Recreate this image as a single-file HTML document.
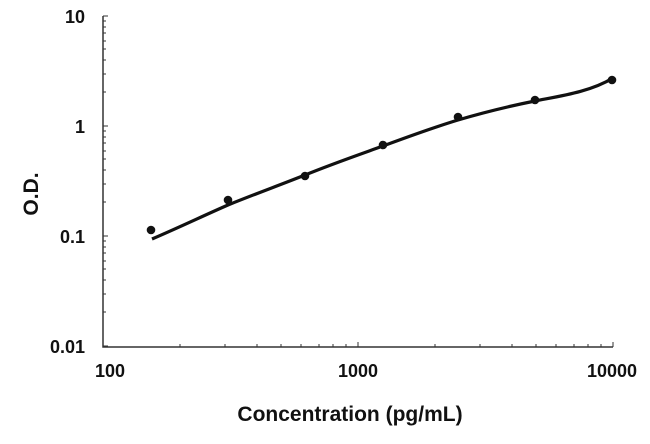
<!DOCTYPE html>
<html><head><style>body{margin:0;background:#fff}</style></head><body>
<svg width="650" height="439" xmlns="http://www.w3.org/2000/svg" font-family="Liberation Sans, Arial, sans-serif" font-weight="bold">
<rect width="650" height="439" fill="#fff"/>
<g stroke="#333" stroke-width="1.5" fill="none">
<path d="M103,16 V347 H613"/>
<g stroke-width="1">
<path id="yd" d="M103,16h5 M103,21h3 M103,27h3 M103,33h3 M103,41h3 M103,49h3 M103,60h3 M103,74h3 M103,92h3 M103,126h5"/>
<use href="#yd" y="110"/>
<use href="#yd" y="220"/>
<path id="xd" d="M103,347v-5 M180,347v-3 M225,347v-3 M257,347v-3 M281,347v-3 M301,347v-3 M319,347v-3 M333,347v-3 M346,347v-3 M358,347v-5"/>
<use href="#xd" x="255"/>
</g>
</g>
<path d="M152,239 C180,227 205,215 228,205 C255,194 280,185 305,175 C332,164 358,155 383,146 C410,136 435,127 458,120 C485,112 510,106 535,101 C560,96 590,92 613,78" stroke="#111" stroke-width="3.2" fill="none"/>
<g fill="#111">
<circle cx="151" cy="230" r="4.3"/><circle cx="228" cy="200" r="4.3"/><circle cx="305" cy="176" r="4.3"/><circle cx="383" cy="145" r="4.3"/><circle cx="458" cy="117" r="4.3"/><circle cx="535" cy="100" r="4.3"/><circle cx="612" cy="80" r="4.3"/>
</g>
<g font-size="18" fill="#111" text-anchor="end">
<text x="85" y="23">10</text><text x="85" y="133">1</text><text x="85" y="243">0.1</text><text x="85" y="353">0.01</text>
</g>
<g font-size="18" fill="#111" text-anchor="middle">
<text x="110" y="377">100</text><text x="358" y="377">1000</text><text x="612" y="377">10000</text>
<text x="350" y="421" font-size="21">Concentration (pg/mL)</text>
<text transform="translate(38,194) rotate(-90)" font-size="21">O.D.</text>
</g>
</svg>
</body></html>
